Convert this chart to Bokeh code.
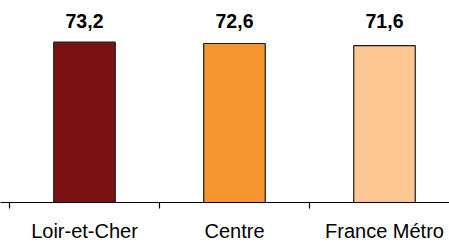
from bokeh.plotting import figure
from bokeh.models import ColumnDataSource, Range1d, LinearAxis, FixedTicker
from bokeh.core.properties import value
from bokeh.embed import file_html
from bokeh.resources import INLINE

categories = ["Loir-et-Cher", "Centre", "France Métro"]
values = [73.2, 72.6, 71.6]
labels = ["73,2", "72,6", "71,6"]
colors = ["#7A1214", "#F7952F", "#FCC692"]

xs = list(range(len(categories)))
label_y = [max(values)] * len(values)
src = ColumnDataSource(dict(x=xs, top=values, label=labels, color=colors, ly=label_y))

W, H = 449, 244
FRAME_H = 202
x0 = -0.56
p = figure(width=W, height=H, output_backend="svg", toolbar_location=None,
           x_range=Range1d(x0, x0 + W / 150), y_range=Range1d(0, FRAME_H / 2.19),
           x_axis_type=None, y_axis_type=None,
           min_border_left=0, min_border_right=0, min_border_top=0, min_border_bottom=0)
p.outline_line_color = None
p.grid.visible = False
p.background_fill_color = "white"
p.border_fill_color = "white"

p.vbar(x="x", top="top", width=0.41, bottom=0, fill_color="color",
       line_color="#1a1a1a", line_width=1.2, source=src)

p.text(x="x", y="ly", text="label", source=src, text_align="center",
       text_baseline="alphabetic", y_offset=-21, text_font=value("Liberation Sans"),
       text_font_style="bold", text_font_size="19.5px", text_color="black")

bounds = [i - 0.5 for i in range(len(categories) + 1)]
ax = LinearAxis(ticker=FixedTicker(ticks=xs, minor_ticks=bounds))
ax.major_label_overrides = {i: c for i, c in zip(xs, categories)}
ax.axis_line_color = "black"
ax.axis_line_width = 1.2
ax.major_tick_line_color = None
ax.minor_tick_line_color = "black"
ax.minor_tick_line_width = 1.2
ax.minor_tick_in = 0
ax.minor_tick_out = 6
ax.major_tick_in = 0
ax.major_tick_out = 6
ax.major_label_standoff = 11
ax.major_label_text_font = "Liberation Sans"
ax.major_label_text_font_size = "20px"
ax.major_label_text_color = "black"
p.add_layout(ax, "below")

open("out.html", "w").write(file_html(p, INLINE))
